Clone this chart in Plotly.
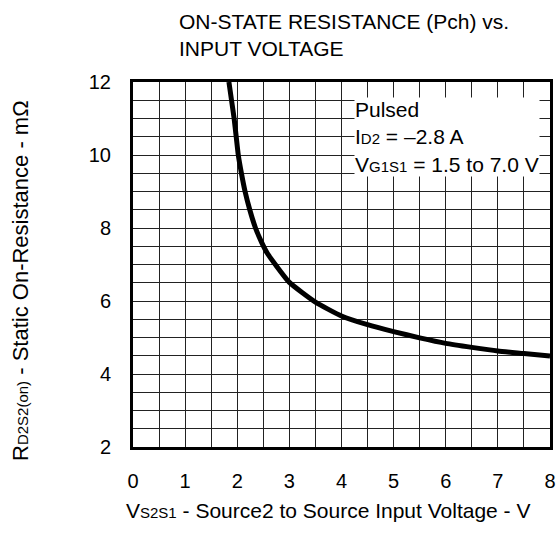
import plotly.graph_objects as go

# Data
vs2s1 = [1.84, 1.89, 1.94, 1.98, 2.02, 2.08, 2.15, 2.24, 2.35, 2.47, 2.58, 2.73, 3.0, 3.5, 4.0, 4.5, 5.0, 5.5, 6.0, 6.5, 7.0, 7.5, 8.0]
rds_on = [12.0, 11.5, 11.0, 10.5, 10.0, 9.5, 9.0, 8.5, 8.0, 7.6, 7.3, 7.0, 6.51, 5.97, 5.59, 5.35, 5.16, 4.99, 4.84, 4.73, 4.63, 4.56, 4.49]

x_ticks = [0, 1, 2, 3, 4, 5, 6, 7, 8]
y_ticks = [2, 4, 6, 8, 10, 12]

FONT = "Liberation Sans, Arial, sans-serif"
SUB = '<span style="font-size:15px">{}</span>'

fig = go.Figure()
fig.add_trace(go.Scatter(
    x=vs2s1, y=rds_on, mode="lines",
    line=dict(color="black", width=5, shape="spline", smoothing=0.5),
    showlegend=False, hoverinfo="skip", cliponaxis=True,
))

axis_common = dict(
    showgrid=True, gridcolor="#222", gridwidth=1,
    showline=True, linecolor="black", linewidth=3, mirror=True,
    ticks="", zeroline=False, automargin=False,
    tickfont=dict(family=FONT, size=20, color="black"),
)

fig.update_layout(
    width=556, height=537,
    margin=dict(l=133, r=6, t=82, b=90),
    paper_bgcolor="white", plot_bgcolor="white",
    font=dict(family=FONT, color="black"),
    xaxis=dict(range=[0, 8], tickvals=x_ticks,
               ticklabelstandoff=14, **axis_common),
    yaxis=dict(range=[2, 12], tickvals=y_ticks,
               ticklabelstandoff=15, **axis_common),
)
# gridlines every 0.5
fig.update_xaxes(minor=dict(dtick=0.5, showgrid=True, gridcolor="#222", gridwidth=1))
fig.update_yaxes(minor=dict(dtick=0.5, showgrid=True, gridcolor="#222", gridwidth=1))

# Title
fig.add_annotation(
    xref="paper", yref="paper", x=(177 - 133) / 417, y=1 + (82 - 8) / 365,
    xanchor="left", yanchor="top", align="left", showarrow=False,
    text="ON-STATE RESISTANCE (Pch) vs.<br>INPUT VOLTAGE",
    font=dict(family=FONT, size=21, color="black"),
)

# Conditions box
fig.add_annotation(
    xref="paper", yref="paper", x=(354 - 133) / 417, y=1 - (97 - 82) / 365,
    xanchor="left", yanchor="top", align="left", showarrow=False,
    bgcolor="white", borderpad=0,
    text="Pulsed<br>I" + SUB.format("D2") + " = \u20132.8 A<br>V" + SUB.format("G1S1") + " = 1.5 to 7.0 V",
    font=dict(family=FONT, size=21, color="black"),
)

# Axis titles
fig.add_annotation(
    xref="paper", yref="paper", x=(328 - 133) / 417, y=-(510 - 447) / 365,
    xanchor="center", yanchor="middle", showarrow=False,
    text="V" + SUB.format("S2S1") + " - Source2 to Source Input Voltage - V",
    font=dict(family=FONT, size=21, color="black"),
)
fig.add_annotation(
    xref="paper", yref="paper", x=-(133 - 20) / 417, y=(447 - 281) / 365,
    xanchor="center", yanchor="middle", showarrow=False, textangle=-90,
    text="R" + SUB.format("D2S2(on)") + " - Static On-Resistance - m\u03a9",
    font=dict(family=FONT, size=22, color="black"),
)

fig.write_html(
    "out.html",
    config={"displayModeBar": False},
    post_script="document.body.style.margin='0';document.body.style.overflow='hidden';",
)
